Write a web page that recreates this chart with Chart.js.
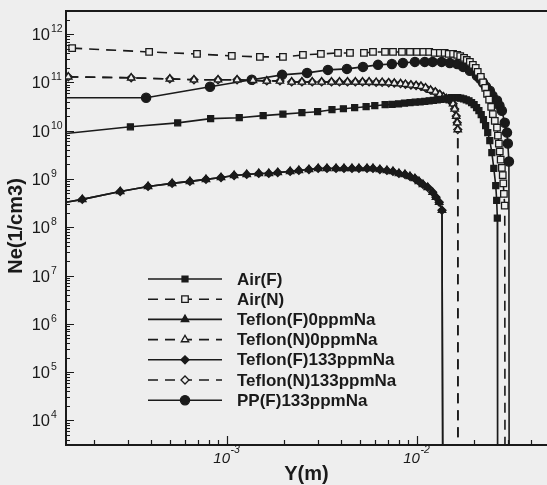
<!DOCTYPE html>
<html>
<head>
<meta charset="utf-8">
<script src="https://cdn.jsdelivr.net/npm/chart.js@4.4.1/dist/chart.umd.min.js"></script>
<style>
  html, body { margin: 0; padding: 0; background: #eeeeee; }
  canvas { display: block; }
</style>
</head>
<body>
<canvas id="chart" width="547" height="485"></canvas>
<script>
// Densité électronique Ne en fonction de Y (échelles log-log).

const INK = "#1a1a1a";
const PAPER = "#eeeeee";

// axes (bornes)
const X_MIN = 1.42e-4;
const X_MAX = 4.84e-2;
const Y_MIN = 3.1e3;
const Y_MAX = 3.0e12;

// exposants des étiquettes de graduation
const X_TICK_EXP = [-3, -2];
const Y_TICK_EXP = [4, 5, 6, 7, 8, 9, 10, 11, 12];

// Air(F)
const airF_x = [1.42e-4, 3.1e-4, 5.5e-4, 8.2e-4, 1.16e-3, 1.55e-3, 1.97e-3, 2.48e-3, 3.0e-3, 3.57e-3,
  4.1e-3, 4.7e-3, 5.4e-3, 6.0e-3, 6.8e-3, 7.4e-3, 8.0e-3, 8.6e-3, 9.2e-3, 9.8e-3,
  1.04e-2, 1.10e-2, 1.16e-2, 1.22e-2, 1.28e-2, 1.34e-2, 1.40e-2, 1.46e-2, 1.52e-2, 1.58e-2,
  1.64e-2, 1.70e-2, 1.76e-2, 1.82e-2, 1.88e-2, 1.94e-2, 2.00e-2, 2.06e-2, 2.12e-2, 2.18e-2,
  2.24e-2, 2.30e-2, 2.36e-2, 2.42e-2, 2.48e-2, 2.54e-2, 2.60e-2, 2.63e-2, 2.65e-2, 2.66e-2];
const airF_y = [8.7e9, 1.2e10, 1.45e10, 1.77e10, 1.85e10, 2.05e10, 2.2e10, 2.35e10, 2.47e10, 2.71e10,
  2.84e10, 2.98e10, 3.13e10, 3.28e10, 3.44e10, 3.5e10, 3.6e10, 3.7e10, 3.8e10, 3.9e10,
  3.96e10, 4.05e10, 4.15e10, 4.25e10, 4.35e10, 4.45e10, 4.55e10, 4.65e10, 4.8e10, 4.8e10,
  4.8e10, 4.7e10, 4.55e10, 4.35e10, 4.15e10, 3.8e10, 3.45e10, 3.0e10, 2.6e10, 2.15e10,
  1.7e10, 1.27e10, 9.1e9, 6.2e9, 3.5e9, 1.65e9, 7.3e8, 3.6e8, 1.55e8, 1e2];

// Air(N)
const airN_x = [1.53e-4, 3.89e-4, 6.95e-4, 1.06e-3, 1.49e-3, 1.97e-3, 2.51e-3, 3.12e-3, 3.84e-3, 4.44e-3,
  5.26e-3, 5.87e-3, 6.79e-3, 7.48e-3, 8.34e-3, 9.19e-3, 1.0e-2, 1.08e-2, 1.16e-2, 1.24e-2,
  1.32e-2, 1.40e-2, 1.47e-2, 1.55e-2, 1.63e-2, 1.69e-2, 1.77e-2, 1.83e-2, 1.90e-2, 1.97e-2,
  2.04e-2, 2.09e-2, 2.17e-2, 2.23e-2, 2.29e-2, 2.34e-2, 2.40e-2, 2.46e-2, 2.51e-2, 2.57e-2,
  2.64e-2, 2.67e-2, 2.70e-2, 2.73e-2, 2.76e-2, 2.80e-2, 2.83e-2, 2.85e-2, 2.87e-2, 2.90e-2, 2.91e-2];
const airN_y = [5.1e11, 4.26e11, 3.87e11, 3.52e11, 3.36e11, 3.36e11, 3.69e11, 3.87e11, 4.06e11, 4.06e11,
  4.06e11, 4.26e11, 4.26e11, 4.26e11, 4.26e11, 4.26e11, 4.26e11, 4.26e11, 4.26e11, 4.06e11,
  4.06e11, 4.06e11, 3.87e11, 3.87e11, 3.7e11, 3.5e11, 3.2e11, 2.9e11, 2.65e11, 2.3e11,
  2.0e11, 1.65e11, 1.3e11, 1.0e11, 7.7e10, 5.8e10, 4.4e10, 3.1e10, 2.2e10, 1.6e10,
  1.15e10, 7.9e9, 5.4e9, 3.7e9, 2.5e9, 1.7e9, 1.2e9, 8.1e8, 4.9e8, 2.8e8, 1e2];

// Teflon(F) : 0 et 133 ppm Na confondus sur la figure
const teflonF_x = [1.42e-4, 1.73e-4, 2.74e-4, 3.84e-4, 5.14e-4, 6.38e-4, 7.75e-4, 9.3e-4, 1.09e-3, 1.27e-3,
  1.47e-3, 1.66e-3, 1.85e-3, 2.15e-3, 2.39e-3, 2.70e-3, 3.02e-3, 3.36e-3, 3.75e-3, 4.13e-3,
  4.55e-3, 4.95e-3, 5.46e-3, 5.87e-3, 6.38e-3, 6.95e-3, 7.48e-3, 8.04e-3, 8.65e-3, 9.19e-3,
  9.76e-3, 1.025e-2, 1.076e-2, 1.14e-2, 1.21e-2, 1.26e-2, 1.31e-2, 1.355e-2, 1.37e-2];
const teflonF_y = [3.3e8, 3.78e8, 5.5e8, 7.0e8, 8.1e8, 8.9e8, 9.8e8, 1.07e9, 1.18e9, 1.24e9,
  1.3e9, 1.3e9, 1.36e9, 1.43e9, 1.5e9, 1.57e9, 1.65e9, 1.65e9, 1.65e9, 1.65e9,
  1.65e9, 1.65e9, 1.65e9, 1.65e9, 1.57e9, 1.5e9, 1.43e9, 1.3e9, 1.24e9, 1.13e9,
  1.02e9, 8.9e8, 7.7e8, 6.7e8, 5.3e8, 4.2e8, 3.3e8, 2.24e8, 1e2];

// Teflon(N) : 0 et 133 ppm Na confondus sur la figure
const teflonN_x = [1.46e-4, 3.13e-4, 5.0e-4, 6.7e-4, 8.97e-4, 1.13e-3, 1.37e-3, 1.62e-3, 1.90e-3, 2.19e-3,
  2.48e-3, 2.81e-3, 3.15e-3, 3.55e-3, 3.91e-3, 4.31e-3, 4.74e-3, 5.17e-3, 5.6e-3, 6.1e-3,
  6.56e-3, 7.1e-3, 7.6e-3, 8.2e-3, 8.7e-3, 9.3e-3, 9.9e-3, 1.05e-2, 1.11e-2, 1.18e-2,
  1.25e-2, 1.32e-2, 1.38e-2, 1.43e-2, 1.49e-2, 1.55e-2, 1.58e-2, 1.61e-2, 1.63e-2, 1.64e-2, 1.645e-2];
const teflonN_y = [1.30e11, 1.24e11, 1.18e11, 1.13e11, 1.13e11, 1.13e11, 1.1e11, 1.07e11, 1.07e11, 1.02e11,
  1.02e11, 1.02e11, 1.02e11, 1.02e11, 1.02e11, 1.02e11, 1.02e11, 1.02e11, 1.02e11, 1.0e11,
  1.0e11, 9.8e10, 9.6e10, 9.4e10, 9.1e10, 8.8e10, 8.6e10, 8.3e10, 7.7e10, 6.9e10,
  6.3e10, 5.6e10, 5.0e10, 4.6e10, 4.2e10, 3.6e10, 2.8e10, 2.0e10, 1.46e10, 1.05e10, 1e2];

// PP(F)133ppmNa
const ppF_x = [1.42e-4, 3.75e-4, 8.14e-4, 1.35e-3, 1.95e-3, 2.64e-3, 3.40e-3, 4.28e-3, 5.2e-3, 6.24e-3,
  7.38e-3, 8.44e-3, 9.76e-3, 1.10e-2, 1.21e-2, 1.35e-2, 1.49e-2, 1.63e-2, 1.75e-2, 1.90e-2,
  2.07e-2, 2.15e-2, 2.23e-2, 2.31e-2, 2.42e-2, 2.50e-2, 2.64e-2, 2.72e-2, 2.80e-2, 2.90e-2,
  2.98e-2, 3.01e-2, 3.05e-2, 3.06e-2];
const ppF_y = [4.8e10, 4.8e10, 8.1e10, 1.13e11, 1.43e11, 1.57e11, 1.81e11, 1.9e11, 2.09e11, 2.3e11,
  2.4e11, 2.52e11, 2.65e11, 2.65e11, 2.65e11, 2.65e11, 2.52e11, 2.4e11, 2.09e11, 1.73e11,
  1.36e11, 1.18e11, 9.8e10, 8.1e10, 6.7e10, 5.3e10, 4.2e10, 3.3e10, 2.58e10, 1.46e10,
  9.1e9, 5.4e9, 2.3e9, 1e2];

const FONT = "'Liberation Sans', Arial, sans-serif";

function series(label, xs, ys, style, open, dashed, r, skipFirst) {
  return {
    label,
    data: xs.map((x, i) => ({ x, y: ys[i] })),
    borderColor: INK,
    borderWidth: 1.6,
    borderDash: dashed ? [10, 7] : [],
    pointStyle: style,
    pointBackgroundColor: open ? PAPER : INK,
    pointBorderColor: INK,
    pointBorderWidth: 1.3,
    // pas de symbole sur le premier point quand la courbe part du bord
    pointRadius: (c) => (skipFirst && c.dataIndex === 0 ? 0 : r),
    markerSize: r,
    tension: 0,
    fill: false,
  };
}

const datasets = [
  series("Air(F)", airF_x, airF_y, "rect", false, false, 4.2, true),
  series("Air(N)", airN_x, airN_y, "rect", true, true, 4.6, false),
  series("Teflon(F)0ppmNa", teflonF_x, teflonF_y, "triangle", false, false, 4.3, true),
  series("Teflon(N)0ppmNa", teflonN_x, teflonN_y, "triangle", true, true, 4.3, false),
  series("Teflon(F)133ppmNa", teflonF_x, teflonF_y, "rectRot", false, false, 4.0, true),
  series("Teflon(N)133ppmNa", teflonN_x, teflonN_y, "rectRot", true, true, 4.0, false),
  series("PP(F)133ppmNa", ppF_x, ppF_y, "circle", false, false, 4.6, true),
];

const paper = {
  id: "paper",
  beforeDraw(chart) {
    const { ctx, width, height } = chart;
    ctx.save();
    ctx.fillStyle = PAPER;
    ctx.fillRect(0, 0, width, height);
    ctx.restore();
  },
};

// graduations vers l'intérieur, étiquettes 10^n, cadre haut et titres
const axesDecor = {
  id: "axesDecor",
  afterDraw(chart) {
    const { ctx, chartArea: a, scales } = chart;
    const x = scales.x, y = scales.y;
    ctx.save();
    ctx.strokeStyle = INK;
    ctx.fillStyle = INK;
    ctx.lineWidth = 1.2;

    ctx.beginPath();
    for (let e = 3; e <= 12; e++) {
      for (let m = 1; m <= 9; m++) {
        const v = m * Math.pow(10, e);
        if (v < Y_MIN || v > Y_MAX) continue;
        const py = Math.round(y.getPixelForValue(v)) + 0.5;
        ctx.moveTo(a.left, py);
        ctx.lineTo(a.left + (m === 1 ? 8 : 4), py);
      }
    }
    for (let e = -4; e <= -2; e++) {
      for (let m = 1; m <= 9; m++) {
        const v = m * Math.pow(10, e);
        if (v < X_MIN || v > X_MAX) continue;
        const px = Math.round(x.getPixelForValue(v)) + 0.5;
        ctx.moveTo(px, a.bottom);
        ctx.lineTo(px, a.bottom - (m === 1 ? 9 : 5));
      }
    }
    ctx.stroke();

    // cadre haut
    ctx.lineWidth = 2;
    ctx.beginPath();
    ctx.moveTo(a.left - 1, a.top);
    ctx.lineTo(a.right, a.top);
    ctx.stroke();

    // étiquettes Y
    ctx.textAlign = "left";
    ctx.textBaseline = "alphabetic";
    Y_TICK_EXP.forEach((e) => {
      const py = y.getPixelForValue(Math.pow(10, e));
      ctx.font = "16.5px " + FONT;
      const bw = ctx.measureText("10").width;
      ctx.fillText("10", a.left - 16 - bw, py + 6);
      ctx.font = "10.5px " + FONT;
      ctx.fillText(String(e), a.left - 15, py - 2);
    });

    // étiquettes X
    X_TICK_EXP.forEach((e) => {
      const px = x.getPixelForValue(Math.pow(10, e));
      ctx.font = "italic 15px " + FONT;
      const bw = ctx.measureText("10").width;
      ctx.fillText("10", px + 3 - bw, a.bottom + 18);
      ctx.font = "italic 10.5px " + FONT;
      ctx.fillText(String(e), px + 3.5, a.bottom + 8);
    });

    // titres
    ctx.font = "bold 20px " + FONT;
    ctx.textAlign = "center";
    ctx.textBaseline = "middle";
    ctx.fillText("Y(m)", (a.left + a.right) / 2, a.bottom + 29);
    ctx.translate(16, (a.top + a.bottom) / 2 - 2);
    ctx.rotate(-Math.PI / 2);
    ctx.fillText("Ne(1/cm3)", 0, 0);
    ctx.restore();
  },
};

// légende dans le graphique : trait + symbole + texte
const insideLegend = {
  id: "insideLegend",
  afterDatasetsDraw(chart) {
    const { ctx, chartArea: a } = chart;
    chart.data.datasets.forEach((ds, i) => {
      const yy = a.top + 268 + i * 20.2;
      const x0 = a.left + 82, x1 = a.left + 156, xm = (x0 + x1) / 2;
      ctx.save();
      ctx.strokeStyle = ds.borderColor;
      ctx.lineWidth = ds.borderWidth;
      ctx.setLineDash(ds.borderDash);
      ctx.beginPath();
      ctx.moveTo(x0, yy);
      ctx.lineTo(x1, yy);
      ctx.stroke();
      ctx.setLineDash([]);
      ctx.fillStyle = ds.pointBackgroundColor;
      ctx.strokeStyle = ds.pointBorderColor;
      ctx.lineWidth = ds.pointBorderWidth;
      Chart.helpers.drawPoint(ctx, {
        pointStyle: ds.pointStyle,
        radius: ds.markerSize,
        rotation: 0,
        borderWidth: ds.pointBorderWidth,
      }, xm, yy);
      ctx.fillStyle = INK;
      ctx.font = "bold 17px " + FONT;
      ctx.textAlign = "left";
      ctx.textBaseline = "middle";
      ctx.fillText(ds.label, a.left + 171, yy + 1);
      ctx.restore();
    });
  },
};

new Chart(document.getElementById("chart"), {
  type: "line",
  data: { datasets },
  options: {
    responsive: false,
    animation: false,
    devicePixelRatio: 1,
    layout: { autoPadding: false, padding: { top: 11, right: 0, left: 0, bottom: 0 } },
    plugins: {
      legend: { display: false },
      tooltip: { enabled: false },
    },
    scales: {
      x: {
        type: "logarithmic",
        min: X_MIN,
        max: X_MAX,
        grid: { display: false },
        border: { display: true, color: INK, width: 2 },
        ticks: { display: false },
        afterFit: (s) => { s.height = 40; },
      },
      y: {
        type: "logarithmic",
        min: Y_MIN,
        max: Y_MAX,
        grid: { display: false },
        border: { display: true, color: INK, width: 2 },
        ticks: { display: false },
        afterFit: (s) => { s.width = 66; },
      },
    },
  },
  plugins: [paper, axesDecor, insideLegend],
});
</script>
</body>
</html>
